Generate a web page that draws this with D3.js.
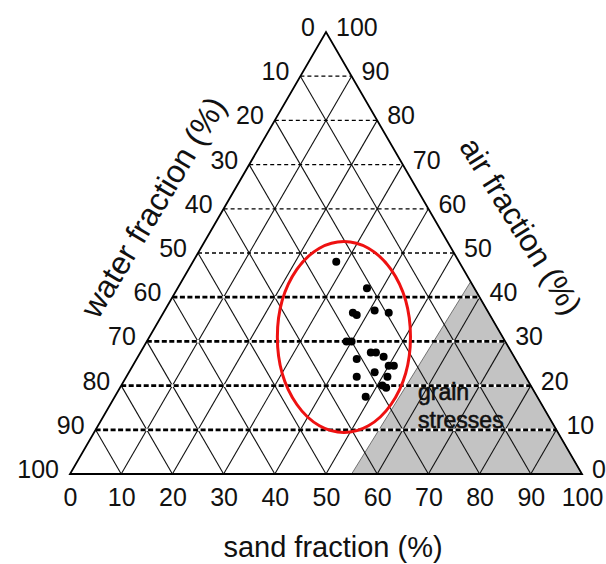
<!DOCTYPE html>
<html>
<head>
<meta charset="utf-8">
<script src="https://cdn.jsdelivr.net/npm/d3@7/dist/d3.min.js"></script>
<style>
  body { margin: 0; background: #fff; }
  text { font-family: "Liberation Sans", Arial, sans-serif; fill: #111; }
</style>
</head>
<body>
<div id="figure-container"></div>
<script>
// ticks, in percent
var sandTicks = [0, 10, 20, 30, 40, 50, 60, 70, 80, 90, 100];
var waterTicks = [0, 10, 20, 30, 40, 50, 60, 70, 80, 90, 100];
var airTicks = [0, 10, 20, 30, 40, 50, 60, 70, 80, 90, 100];
var gridLevels = [10, 20, 30, 40, 50, 60, 70, 80, 90];
var boldAirLevels = [10, 20, 30, 40];

// measured samples (sand, water, air fractions in %)
var sand  = [28, 37, 37, 38, 41, 44, 39, 40, 43, 45, 46, 48, 50, 51, 48, 51, 45, 51, 52, 49];
var water = [24, 21, 26.5, 26, 22, 19.5, 31, 30, 31, 27.5, 26.5, 25.5, 25.5, 24.5, 29, 27, 33, 29, 28.5, 33.5];
var air   = [48, 42, 36.5, 36, 37, 36.5, 30, 30, 26, 27.5, 27.5, 26.5, 24.5, 24.5, 23, 22, 22, 20, 19.5, 17.5];

// grain stresses zone corners
var stressSand = [55, 56.5, 100];
var stressAir  = [0, 43.5, 0];

// red ellipse round the samples: centre (sand, air) and radii in % units
var ringCentre = [38, 31];
var ringRadius = [13, 21.6];

var fullWidth = 606, fullHeight = 564;

var xScale = d3.scaleLinear().domain([0, 100]).range([70, 582]);
var yScale = d3.scaleLinear().domain([0, 100]).range([474, 32]);

// ternary -> screen
function px(s, a) { return xScale(s + a / 2); }
function py(a) { return yScale(a); }

var svg = d3.select('#figure-container')
  .append('svg')
  .attr('width', fullWidth)
  .attr('height', fullHeight);

// grey zone
svg.append('polygon')
  .attr('points', stressSand.map(function(s, i) { return px(s, stressAir[i]) + ',' + py(stressAir[i]); }).join(' '))
  .attr('fill', '#c3c3c3')
  .attr('stroke', '#555')
  .attr('stroke-width', 0.8);

var grid = svg.append('g').attr('class', 'grid');

// constant sand lines (parallel to left edge)
grid.selectAll('line.sand')
  .data(gridLevels)
  .enter().append('line')
    .attr('class', 'sand')
    .attr('x1', function(d) { return px(d, 0); })
    .attr('y1', py(0))
    .attr('x2', function(d) { return px(d, 100 - d); })
    .attr('y2', function(d) { return py(100 - d); })
    .attr('stroke', '#111')
    .attr('stroke-width', 1.1);

// constant water lines (parallel to right edge)
grid.selectAll('line.water')
  .data(gridLevels)
  .enter().append('line')
    .attr('class', 'water')
    .attr('x1', function(d) { return px(100 - d, 0); })
    .attr('y1', py(0))
    .attr('x2', function(d) { return px(0, 100 - d); })
    .attr('y2', function(d) { return py(100 - d); })
    .attr('stroke', '#111')
    .attr('stroke-width', 1.1);

// constant air lines, dashed
var airLines = grid.selectAll('g.air')
  .data(gridLevels)
  .enter().append('g')
    .attr('class', 'air');

airLines.filter(function(d) { return boldAirLevels.indexOf(d) >= 0; })
  .append('line')
    .attr('x1', function(d) { return px(0, d); })
    .attr('x2', function(d) { return px(100 - d, d); })
    .attr('y1', function(d) { return py(d); })
    .attr('y2', function(d) { return py(d); })
    .attr('stroke', '#fff')
    .attr('stroke-width', 2.6);

airLines.append('line')
  .attr('x1', function(d) { return px(0, d); })
  .attr('x2', function(d) { return px(100 - d, d); })
  .attr('y1', function(d) { return py(d); })
  .attr('y2', function(d) { return py(d); })
  .attr('stroke', '#000')
  .attr('stroke-width', function(d) { return boldAirLevels.indexOf(d) >= 0 ? 2.8 : 1.3; })
  .attr('stroke-dasharray', function(d) { return boldAirLevels.indexOf(d) >= 0 ? '5,2.5' : '4,3'; });

// outline
svg.append('polygon')
  .attr('points', [[0, 0], [100, 0], [0, 100]].map(function(p) { return px(p[0], p[1]) + ',' + py(p[1]); }).join(' '))
  .attr('fill', 'none')
  .attr('stroke', '#000')
  .attr('stroke-width', 1.8)
  .attr('stroke-linejoin', 'miter');

// samples
svg.append('g')
  .selectAll('circle')
  .data(sand)
  .enter().append('circle')
    .attr('cx', function(d, i) { return px(d, air[i]); })
    .attr('cy', function(d, i) { return py(air[i]); })
    .attr('r', 4)
    .attr('fill', '#000');

// red ring
svg.append('ellipse')
  .attr('cx', px(ringCentre[0], ringCentre[1]))
  .attr('cy', py(ringCentre[1]))
  .attr('rx', xScale(ringRadius[0]) - xScale(0))
  .attr('ry', yScale(0) - yScale(ringRadius[1]))
  .attr('fill', 'none')
  .attr('stroke', '#ee1111')
  .attr('stroke-width', 3);

// zone label
svg.append('g')
  .attr('font-size', 23)
  .attr('stroke', '#111')
  .attr('stroke-width', 0.6)
  .call(function(g) {
    g.append('text').attr('x', 418).attr('y', 400).text('grain');
    g.append('text').attr('x', 418).attr('y', 428).text('stresses');
  });

// bottom axis (sand)
var xAxis = d3.axisBottom(xScale).tickValues(sandTicks).tickSize(0).tickPadding(14);
var gx = svg.append('g')
  .attr('transform', 'translate(0,' + py(0) + ')')
  .call(xAxis);
gx.select('.domain').remove();
gx.selectAll('text')
  .attr('font-size', 25)
  .style('font-family', '"Liberation Sans", Arial, sans-serif')
  .attr('fill', '#111');

// left ticks (water)
svg.append('g')
  .selectAll('text')
  .data(waterTicks)
  .enter().append('text')
    .attr('x', function(d) { return px(0, 100 - d) - 11; })
    .attr('y', function(d) { return py(100 - d) - 5; })
    .attr('dy', '0.36em')
    .attr('text-anchor', 'end')
    .attr('font-size', 25)
    .text(function(d) { return d; });

// right ticks (air)
svg.append('g')
  .selectAll('text')
  .data(airTicks)
  .enter().append('text')
    .attr('x', function(d) { return px(100 - d, d) + 10; })
    .attr('y', function(d) { return py(d) - 5; })
    .attr('dy', '0.36em')
    .attr('text-anchor', 'start')
    .attr('font-size', 25)
    .text(function(d) { return d; });

// axis titles
svg.append('text')
  .attr('x', 333).attr('y', 557)
  .attr('text-anchor', 'middle')
  .attr('font-size', 29)
  .text('sand fraction (%)');

svg.append('text')
  .attr('transform', 'translate(153,207) rotate(-59)')
  .attr('text-anchor', 'middle')
  .attr('dy', '0.35em')
  .attr('font-size', 32)
  .text('water fraction (%)');

svg.append('text')
  .attr('transform', 'translate(521,226) rotate(58)')
  .attr('text-anchor', 'middle')
  .attr('dy', '0.35em')
  .attr('font-size', 31)
  .text('air fraction (%)');
</script>
</body>
</html>
